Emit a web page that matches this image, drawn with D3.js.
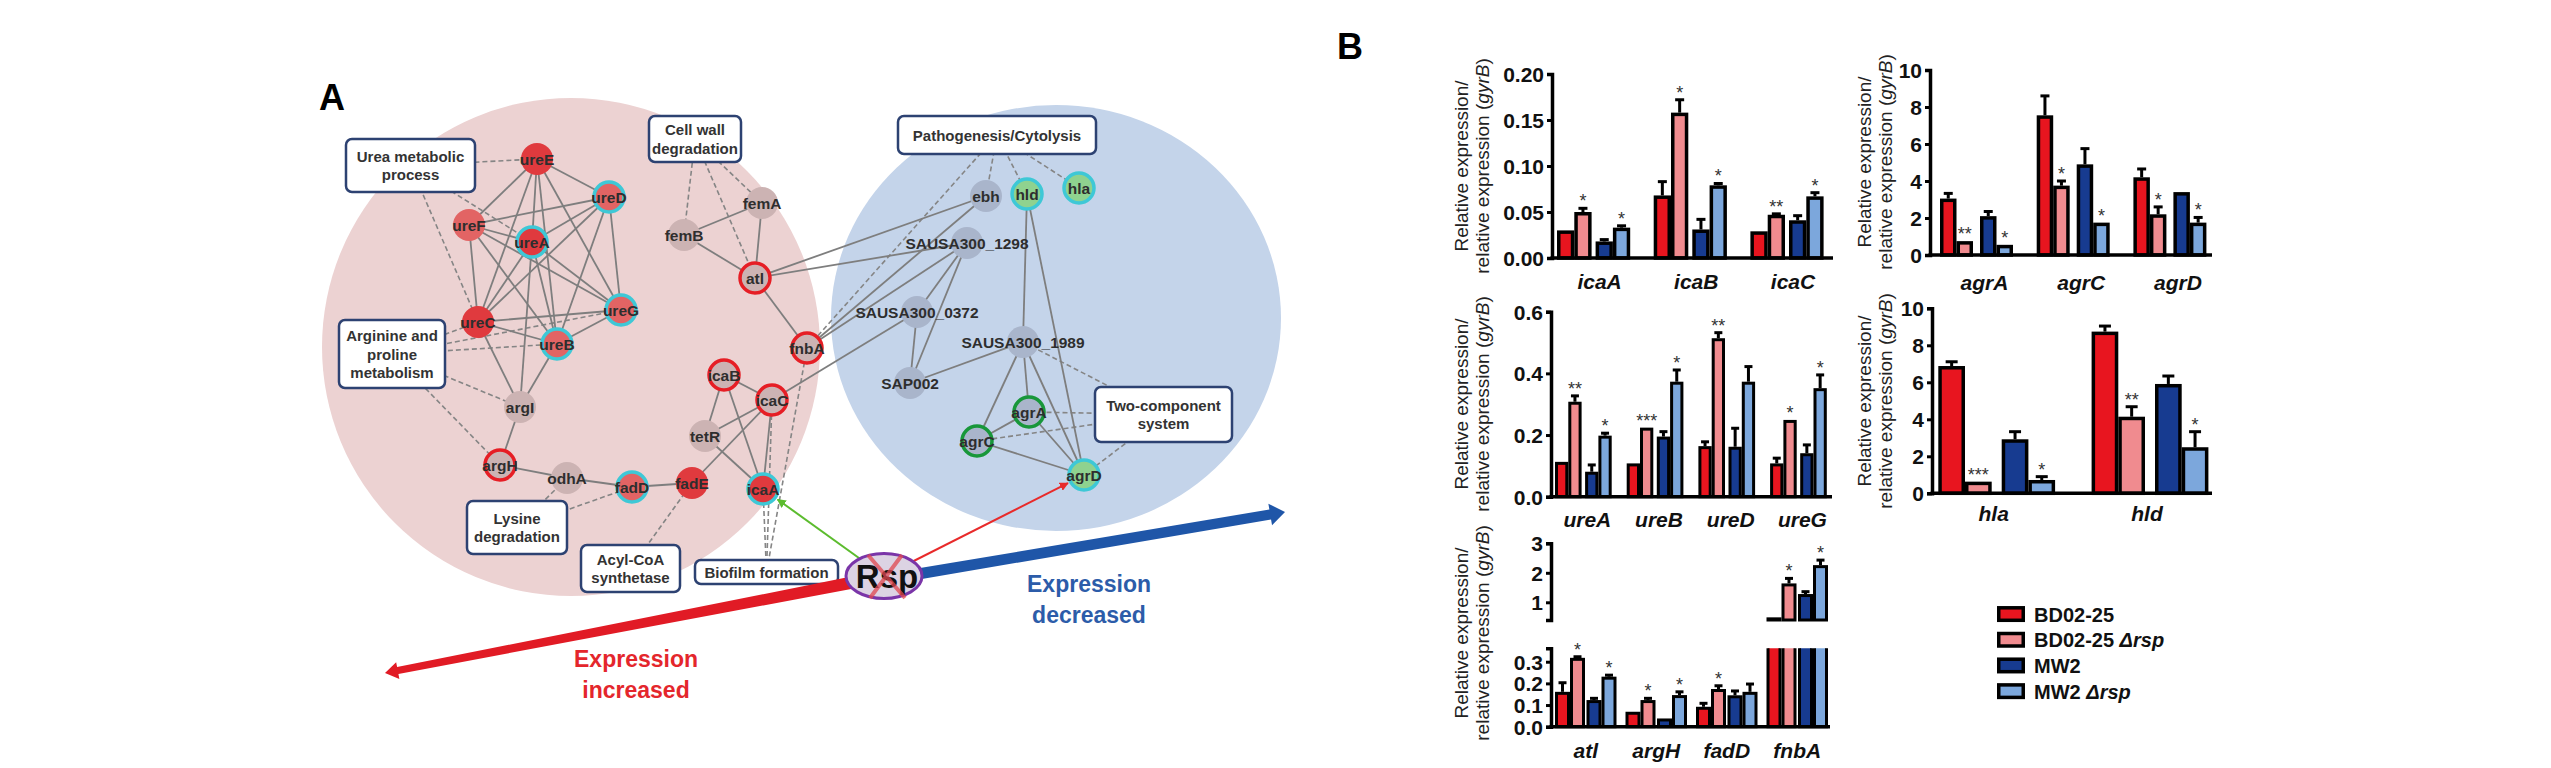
<!DOCTYPE html>
<html>
<head>
<meta charset="utf-8">
<script src="https://cdn.jsdelivr.net/npm/d3@7"></script>
<style>
  body { margin: 0; background: #fff; }
  svg { display: block; }
  text { font-family: "Liberation Sans", Arial, sans-serif; }
</style>
</head>
<body>
<svg width="2551" height="768"></svg>
<script>
// ---------------- data: panel B (qRT-PCR) ----------------
const seriesNames = ["BD02-25", "BD02-25 \u0394rsp", "MW2", "MW2 \u0394rsp"];

const icaGenes = ["icaA", "icaB", "icaC"];
const icaMean = [[0.030, 0.050, 0.018, 0.033], [0.068, 0.158, 0.031, 0.079], [0.029, 0.047, 0.041, 0.067]];
const icaErr  = [[0, 0.004, 0.002, 0.002], [0.015, 0.014, 0.011, 0.002], [0, 0.001, 0.005, 0.004]];
const icaSig  = [["", "*", "", "*"], ["", "*", "", "*"], ["", "**", "", "*"]];
const icaTicks = [0, 0.05, 0.10, 0.15, 0.20];

const agrGenes = ["agrA", "agrC", "agrD"];
const agrMean = [[3.05, 0.75, 2.1, 0.55], [7.55, 3.75, 4.9, 1.75], [4.2, 2.2, 3.4, 1.75]];
const agrErr  = [[0.28, 0, 0.25, 0], [1.05, 0.25, 0.85, 0], [0.45, 0.4, 0, 0.28]];
const agrSig  = [["", "**", "", "*"], ["", "*", "", "*"], ["", "*", "", "*"]];
const agrTicks = [0, 2, 4, 6, 8, 10];

const ureGenes = ["ureA", "ureB", "ureD", "ureG"];
const ureMean = [[0.113, 0.308, 0.081, 0.198], [0.108, 0.224, 0.195, 0.373], [0.164, 0.514, 0.162, 0.373], [0.108, 0.249, 0.141, 0.352]];
const ureErr  = [[0, 0.019, 0.022, 0.008], [0, 0, 0.016, 0.038], [0.014, 0.018, 0.06, 0.049], [0.017, 0, 0.027, 0.043]];
const ureSig  = [["", "**", "", "*"], ["", "***", "", "*"], ["", "**", "", ""], ["", "*", "", "*"]];
const ureTicks = [0, 0.2, 0.4, 0.6];

const toxGenes = ["hla", "hld"];
const toxMean = [[6.88, 0.63, 2.92, 0.72], [8.74, 4.14, 5.91, 2.49]];
const toxErr  = [[0.23, 0, 0.41, 0.18], [0.30, 0.54, 0.43, 0.84]];
const toxSig  = [["", "***", "", "*"], ["", "**", "", "*"]];
const toxTicks = [0, 2, 4, 6, 8, 10];

const adhGenes = ["atl", "argH", "fadD", "fnbA"];
const adhMean = [[0.161, 0.318, 0.123, 0.231], [0.069, 0.123, 0.038, 0.146], [0.092, 0.174, 0.145, 0.161], [0.49, 1.64, 1.28, 2.26]];
const adhErr  = [[0.042, 0.005, 0.008, 0.007], [0, 0.008, 0, 0.015], [0.016, 0.015, 0.02, 0.036], [0, 0.17, 0.08, 0.17]];
const adhSig  = [["", "*", "", "*"], ["", "*", "", "*"], ["", "*", "", ""], ["", "*", "", "*"]];
const adhTicksLow = [0, 0.1, 0.2, 0.3];
const adhTicksHigh = [1, 2, 3];

// ---------------- data: panel A (network) ----------------
const nodeIds = ["ureE", "ureD", "ureF", "ureA", "ureG", "ureC", "ureB", "argI", "argH", "odhA",
  "fadD", "fadE", "icaA", "tetR", "icaB", "icaC", "fnbA", "atl", "femA", "femB",
  "ebh", "hld", "hla", "SAUSA300_1298", "SAUSA300_0372", "SAUSA300_1989", "SAP002", "agrA", "agrC", "agrD"];
// layout coordinates of the network drawing
const nodeX = [237, 309, 169, 232, 321, 178, 257, 220, 200, 267,
  332, 392, 463, 405, 424, 472, 507, 455, 462, 384,
  686, 727, 779, 667, 617, 723, 610, 729, 677, 784];
const nodeY = [99, 137, 165, 182, 250, 262, 284, 347, 405, 418,
  427, 423, 429, 376, 315, 340, 288, 218, 143, 175,
  136, 134, 128, 183, 252, 282, 323, 352, 381, 415];
const nodeChange = ["up", "weak", "weak", "up", "weak", "up", "weak", "none", "none", "none",
  "weak", "up", "up", "none", "none", "none", "none", "none", "none", "none",
  "noneB", "down", "down", "noneB", "noneB", "noneB", "noneB", "noneB", "noneB", "down"];
const nodeRing = ["", "cyan", "", "cyan", "cyan", "", "cyan", "", "red", "",
  "cyan", "", "cyan", "", "red", "red", "red", "red", "", "",
  "", "cyan", "cyan", "", "", "", "", "green", "green", "cyan"];

const terms = [
  { id: "Urea", lines: ["Urea metabolic", "process"], x0: 46, y0: 79, x1: 175, y1: 132 },
  { id: "Cell", lines: ["Cell wall", "degradation"], x0: 349, y0: 56, x1: 441, y1: 102 },
  { id: "Arg", lines: ["Arginine and", "proline", "metabolism"], x0: 39, y0: 260, x1: 145, y1: 328 },
  { id: "Lys", lines: ["Lysine", "degradation"], x0: 167, y0: 441, x1: 267, y1: 494 },
  { id: "Acyl", lines: ["Acyl-CoA", "synthetase"], x0: 281, y0: 485, x1: 380, y1: 532 },
  { id: "Bio", lines: ["Biofilm formation"], x0: 395, y0: 500, x1: 538, y1: 524 },
  { id: "Path", lines: ["Pathogenesis/Cytolysis"], x0: 598, y0: 56, x1: 796, y1: 94 },
  { id: "Two", lines: ["Two-component", "system"], x0: 795, y0: 327, x1: 932, y1: 382 }
];

const solidEdges = [
  ["ureE", "ureD"], ["ureE", "ureF"], ["ureE", "ureA"], ["ureE", "ureC"], ["ureE", "ureB"], ["ureE", "ureG"],
  ["ureD", "ureF"], ["ureD", "ureA"], ["ureD", "ureC"], ["ureD", "ureG"], ["ureD", "ureB"],
  ["ureF", "ureA"], ["ureF", "ureC"], ["ureF", "ureG"], ["ureF", "ureB"],
  ["ureA", "ureC"], ["ureA", "ureG"], ["ureA", "ureB"], ["ureA", "argI"],
  ["ureC", "ureG"], ["ureC", "ureB"], ["ureC", "argI"], ["ureG", "ureB"], ["ureB", "argI"],
  ["argI", "argH"], ["argH", "odhA"], ["odhA", "fadD"], ["fadD", "fadE"], ["fadE", "icaC"],
  ["tetR", "icaB"], ["tetR", "icaC"], ["tetR", "icaA"], ["icaB", "icaC"], ["icaB", "icaA"], ["icaC", "icaA"],
  ["femB", "femA"], ["femB", "atl"], ["femA", "atl"], ["atl", "fnbA"],
  ["atl", "ebh"], ["atl", "SAUSA300_1298"], ["fnbA", "ebh"], ["fnbA", "SAUSA300_1298"], ["icaC", "SAUSA300_0372"],
  ["SAUSA300_1298", "SAUSA300_0372"], ["SAUSA300_1298", "SAP002"], ["SAUSA300_0372", "SAP002"],
  ["SAP002", "SAUSA300_1989"], ["hld", "SAUSA300_1989"], ["hld", "agrD"],
  ["SAUSA300_1989", "agrA"], ["SAUSA300_1989", "agrC"], ["SAUSA300_1989", "agrD"],
  ["agrA", "agrC"], ["agrA", "agrD"], ["agrC", "agrD"]
];
const termEdges = [
  ["Urea", "ureE"], ["Urea", "ureA"], ["Urea", "ureC"],
  ["Arg", "ureC"], ["Arg", "ureB"], ["Arg", "ureG"], ["Arg", "argI"], ["Arg", "argH"],
  ["Lys", "odhA"], ["Lys", "fadD"], ["Acyl", "fadE"],
  ["Cell", "femB"], ["Cell", "femA"], ["Cell", "atl"],
  ["Bio", "icaA"], ["Bio", "icaC"], ["Bio", "fnbA"],
  ["Path", "ebh"], ["Path", "hld"], ["Path", "hla"], ["Path", "fnbA"],
  ["Two", "agrA"], ["Two", "agrC"], ["Two", "agrD"], ["Two", "SAUSA300_1989"]
];
const rspTargets = ["icaA", "agrD"];
const rspEffect = ["up", "down"];

// ---------------- drawing ----------------
const svg = d3.select("svg");
const barColor = d3.scaleOrdinal().domain([0, 1, 2, 3]).range(["#e8151f", "#f08b8f", "#173b90", "#7ca7dc"]);

function drawChart(c) {
  const g = svg.append("g");
  const W = 4 * c.barW + c.pairGap;
  const pin = 1 - W / c.step;
  const x = d3.scaleBand().domain(c.genes)
    .range([c.gx, c.gx + c.step * (c.genes.length - pin)])
    .paddingInner(pin).paddingOuter(0);
  const offs = i => i * c.barW + (i >= 2 ? c.pairGap : 0);
  const sw = c.sw;
  const rows = [];
  c.genes.forEach((gene, gi) => c.mean[gi].forEach((v, si) =>
    rows.push({ gene, si, v, e: c.err[gi][si], s: c.sig[gi][si] })));

  c.segments.forEach((seg, k) => {
    const y = d3.scaleLinear().domain(seg.domain).range(seg.range);
    const base = seg.domain[0];
    const id = "clip-" + c.name + k;
    const clipTop = seg.open ? seg.range[1] : seg.range[1] - 80;
    g.append("clipPath").attr("id", id).append("rect")
      .attr("x", c.ax).attr("width", c.right - c.ax)
      .attr("y", clipTop).attr("height", seg.range[0] + sw - clipTop);
    const inSeg = rows.filter(d => d.v > base);
    g.append("g").attr("clip-path", `url(#${id})`)
      .selectAll("rect").data(inSeg).join("rect")
      .attr("x", d => x(d.gene) + offs(d.si) + sw / 2)
      .attr("width", c.barW - sw)
      .attr("y", d => y(d.v) + sw / 2)
      .attr("height", d => Math.max(0.5, y(base) - y(d.v) - sw / 2))
      .attr("fill", d => barColor(d.si))
      .attr("stroke", "#000").attr("stroke-width", sw);

    const shown = inSeg.filter(d => d.v <= seg.domain[1]);
    const cx = d => x(d.gene) + offs(d.si) + c.barW / 2;
    const eb = g.append("g").attr("stroke", "#000").attr("stroke-width", 3);
    eb.selectAll("line.v").data(shown.filter(d => d.e > 0)).join("line")
      .attr("x1", cx).attr("x2", cx)
      .attr("y1", d => y(d.v)).attr("y2", d => y(d.v + d.e));
    eb.selectAll("line.h").data(shown.filter(d => d.e > 0)).join("line")
      .attr("x1", d => cx(d) - c.capW / 2).attr("x2", d => cx(d) + c.capW / 2)
      .attr("y1", d => y(d.v + d.e)).attr("y2", d => y(d.v + d.e));
    g.selectAll(null).data(shown.filter(d => d.s)).join("text")
      .attr("x", cx).attr("y", d => y(d.v + d.e) - 1)
      .attr("text-anchor", "middle").attr("font-size", 18).attr("fill", "#333")
      .text(d => d.s);

    const axis = d3.axisLeft(y).tickValues(seg.ticks).tickFormat(d3.format(seg.fmt))
      .tickSize(5).tickSizeOuter(5).tickPadding(3);
    const ag = g.append("g").attr("transform", `translate(${c.ax},0)`).call(axis);
    ag.select(".domain").attr("stroke", "#000").attr("stroke-width", 3.5);
    ag.selectAll(".tick line").attr("stroke", "#000").attr("stroke-width", 3);
    ag.selectAll(".tick text").attr("font-family", "Liberation Sans, Arial, sans-serif")
      .attr("font-weight", "bold").attr("font-size", 21).attr("fill", "#111").attr("dy", "0.36em");
  });

  const y0 = c.segments[0].range[0];
  g.append("line").attr("x1", c.ax - 1.5).attr("x2", c.right).attr("y1", y0).attr("y2", y0)
    .attr("stroke", "#000").attr("stroke-width", 3.5);

  g.selectAll(null).data(c.genes).join("text")
    .attr("x", d => x(d) + W / 2 + c.labelDx).attr("y", c.labelY)
    .attr("text-anchor", "middle").attr("font-size", 21)
    .attr("font-weight", "bold").attr("font-style", "italic").attr("fill", "#111")
    .text(d => d);

  const l1 = g.append("text").attr("transform", `translate(${c.ylx[0]},${c.ylc}) rotate(-90)`)
    .attr("text-anchor", "middle").attr("font-size", 19).attr("fill", "#222")
    .text("Relative expression/");
  const l2 = g.append("text").attr("transform", `translate(${c.ylx[1]},${c.ylc}) rotate(-90)`)
    .attr("text-anchor", "middle").attr("font-size", 19).attr("fill", "#222");
  l2.append("tspan").text("relative expression (");
  l2.append("tspan").attr("font-style", "italic").text("gyrB");
  l2.append("tspan").text(")");
}

drawChart({ name: "ica", genes: icaGenes, mean: icaMean, err: icaErr, sig: icaSig,
  ax: 1552, right: 1833, gx: 1557, step: 96.7, barW: 17.3, pairGap: 4, sw: 3.5, capW: 9,
  segments: [{ domain: [0, 0.2], range: [258, 74], ticks: icaTicks, fmt: ".2f" }],
  labelY: 289, labelDx: 6, ylx: [1468, 1489], ylc: 166 });

drawChart({ name: "agr", genes: agrGenes, mean: agrMean, err: agrErr, sig: agrSig,
  ax: 1930, right: 2212, gx: 1940, step: 96.7, barW: 16.5, pairGap: 7, sw: 3.5, capW: 9,
  segments: [{ domain: [0, 10], range: [255, 70], ticks: agrTicks, fmt: "d" }],
  labelY: 290, labelDx: 8, ylx: [1871, 1892], ylc: 162 });

drawChart({ name: "ure", genes: ureGenes, mean: ureMean, err: ureErr, sig: ureSig,
  ax: 1551, right: 1832, gx: 1555, step: 71.7, barW: 13.3, pairGap: 3.5, sw: 3, capW: 8,
  segments: [{ domain: [0, 0.6], range: [496.7, 311.7], ticks: ureTicks, fmt: ".1f" }],
  labelY: 527, labelDx: 4, ylx: [1468, 1489], ylc: 404 });

drawChart({ name: "tox", genes: toxGenes, mean: toxMean, err: toxErr, sig: toxSig,
  ax: 1932, right: 2212, gx: 1938.3, step: 153.3, barW: 26.7, pairGap: 10, sw: 3.5, capW: 12,
  segments: [{ domain: [0, 10], range: [493.3, 308.3], ticks: toxTicks, fmt: "d" }],
  labelY: 521, labelDx: -3, ylx: [1871, 1892], ylc: 401 });

drawChart({ name: "adh", genes: adhGenes, mean: adhMean, err: adhErr, sig: adhSig,
  ax: 1551, right: 1830, gx: 1555, step: 70.5, barW: 15, pairGap: 1.5, sw: 3, capW: 8,
  segments: [
    { domain: [0, 0.362], range: [726.7, 648.3], ticks: adhTicksLow, fmt: ".1f", open: true },
    { domain: [0.4, 3], range: [620, 543.3], ticks: adhTicksHigh, fmt: "d" }
  ],
  labelY: 758, labelDx: 0, ylx: [1468, 1489], ylc: 633 });

// legend
const lg = svg.append("g").attr("transform", "translate(1997,614)");
const lrow = lg.selectAll("g").data(seriesNames).join("g")
  .attr("transform", (d, i) => `translate(0,${i * 25.7})`);
lrow.append("rect").attr("x", 1.75).attr("y", -6.2).attr("width", 24.5).attr("height", 12.5)
  .attr("fill", (d, i) => barColor(i)).attr("stroke", "#000").attr("stroke-width", 3.5);
const ltxt = lrow.append("text").attr("x", 37).attr("y", 7.5)
  .attr("font-size", 20).attr("font-weight", "bold").attr("fill", "#111");
ltxt.append("tspan").text(d => d.split(" ")[0]);
ltxt.append("tspan").attr("font-style", "italic").text(d => d.includes(" ") ? " " + d.split(" ")[1] : "");

svg.append("text").attr("x", 1337).attr("y", 59).attr("font-size", 36).attr("font-weight", "bold").text("B");

// ---------------- panel A ----------------
const xNet = d3.scaleLinear().domain([0, 1000]).range([300, 1300]);
const yNet = d3.scaleLinear().domain([0, 700]).range([60, 760]);
const gA = svg.append("g");

const changeFill = d3.scaleOrdinal().domain(["up", "weak", "none", "noneB", "down"])
  .range(["#e03a3e", "#e26464", "#ccb3b3", "#a9b5cb", "#8fd28f"]);
const ringColor = d3.scaleOrdinal().domain(["cyan", "red", "green"]).range(["#3ec8d6", "#e61e25", "#18973a"]);

gA.append("ellipse").attr("cx", xNet(271)).attr("cy", yNet(287)).attr("rx", 249).attr("ry", 249).attr("fill", "#ecd2d2");
gA.append("ellipse").attr("cx", xNet(756)).attr("cy", yNet(258)).attr("rx", 225).attr("ry", 213).attr("fill", "#c4d4ea");

const pos = new Map();
nodeIds.forEach((id, i) => pos.set(id, [nodeX[i], nodeY[i]]));
terms.forEach(t => pos.set(t.id, [(t.x0 + t.x1) / 2, (t.y0 + t.y1) / 2]));

gA.append("g").selectAll("line").data(termEdges).join("line")
  .attr("x1", d => xNet(pos.get(d[0])[0])).attr("y1", d => yNet(pos.get(d[0])[1]))
  .attr("x2", d => xNet(pos.get(d[1])[0])).attr("y2", d => yNet(pos.get(d[1])[1]))
  .attr("stroke", "#858585").attr("stroke-width", 1.6).attr("stroke-dasharray", "5,3");
gA.append("g").selectAll("line").data(solidEdges).join("line")
  .attr("x1", d => xNet(pos.get(d[0])[0])).attr("y1", d => yNet(pos.get(d[0])[1]))
  .attr("x2", d => xNet(pos.get(d[1])[0])).attr("y2", d => yNet(pos.get(d[1])[1]))
  .attr("stroke", "#7e7e7e").attr("stroke-width", 1.8);

// Rsp regulation lines
const rsp = [584, 516];
const regColor = d3.scaleOrdinal().domain(["up", "down"]).range(["#5cbc2e", "#e82a2a"]);
const defs = svg.append("defs");
["up", "down"].forEach(k => defs.append("marker").attr("id", "arr-" + k)
  .attr("viewBox", "0 0 10 10").attr("refX", 9).attr("refY", 5)
  .attr("markerWidth", 9).attr("markerHeight", 9).attr("markerUnits", "userSpaceOnUse")
  .attr("orient", "auto").append("path").attr("d", "M0,0L10,5L0,10z").attr("fill", regColor(k)));
gA.append("g").selectAll("line").data(rspTargets).join("line")
  .each(function (t, i) {
    const [tx, ty] = pos.get(t);
    const dx = tx - rsp[0], dy = ty - rsp[1], L = Math.hypot(dx, dy);
    d3.select(this)
      .attr("x1", xNet(rsp[0])).attr("y1", yNet(rsp[1]))
      .attr("x2", xNet(tx - dx / L * 18)).attr("y2", yNet(ty - dy / L * 18))
      .attr("stroke", regColor(rspEffect[i])).attr("stroke-width", 2)
      .attr("marker-end", `url(#arr-${rspEffect[i]})`);
  });

// term boxes
const tg = gA.append("g").selectAll("g").data(terms).join("g");
tg.append("rect")
  .attr("x", d => xNet(d.x0)).attr("y", d => yNet(d.y0))
  .attr("width", d => d.x1 - d.x0).attr("height", d => d.y1 - d.y0)
  .attr("rx", 6).attr("fill", "#fff").attr("stroke", "#2d4272").attr("stroke-width", 2.5);
tg.each(function (d) {
  const n = d.lines.length, cy = (d.y0 + d.y1) / 2;
  d3.select(this).selectAll("text").data(d.lines).join("text")
    .attr("x", xNet((d.x0 + d.x1) / 2))
    .attr("y", (l, j) => yNet(cy + (j - (n - 1) / 2) * 18.5) + 5.5)
    .attr("text-anchor", "middle").attr("font-size", 15).attr("font-weight", "bold").attr("fill", "#333")
    .text(l => l);
});

// nodes
const ng = gA.append("g").selectAll("g").data(nodeIds).join("g")
  .attr("transform", (d, i) => `translate(${xNet(nodeX[i])},${yNet(nodeY[i])})`);
ng.append("circle")
  .attr("r", (d, i) => nodeRing[i] ? 15 : 16)
  .attr("fill", (d, i) => changeFill(nodeChange[i]))
  .attr("stroke", (d, i) => nodeRing[i] ? ringColor(nodeRing[i]) : "none")
  .attr("stroke-width", 3.5);
ng.append("text").attr("text-anchor", "middle").attr("y", 5.5)
  .attr("font-size", 15.5).attr("font-weight", "bold").attr("fill", "#2e2e2e")
  .text(d => d);

// big direction arrows
function taper(p0, p1, w0, w1, hw, hl) {
  const dx = p1[0] - p0[0], dy = p1[1] - p0[1], L = Math.hypot(dx, dy);
  const ux = dx / L, uy = dy / L, nx = -uy, ny = ux;
  const b = [p1[0] - ux * hl, p1[1] - uy * hl];
  const pts = [
    [p0[0] + nx * w0 / 2, p0[1] + ny * w0 / 2], [b[0] + nx * w1 / 2, b[1] + ny * w1 / 2],
    [b[0] + nx * hw / 2, b[1] + ny * hw / 2], p1,
    [b[0] - nx * hw / 2, b[1] - ny * hw / 2], [b[0] - nx * w1 / 2, b[1] - ny * w1 / 2],
    [p0[0] - nx * w0 / 2, p0[1] - ny * w0 / 2]
  ];
  return d3.line().x(p => xNet(p[0])).y(p => yNet(p[1]))(pts) + "Z";
}
gA.append("path").attr("d", taper([550, 523], [85, 613], 12, 7, 17, 13)).attr("fill", "#e11b25");
gA.append("path").attr("d", taper([618, 514], [985, 452], 11, 10, 22, 15)).attr("fill", "#1f56a8");

// Rsp
gA.append("ellipse").attr("cx", xNet(rsp[0])).attr("cy", yNet(rsp[1])).attr("rx", 38).attr("ry", 22.5)
  .attr("fill", "#dcd3e3").attr("stroke", "#7a35a8").attr("stroke-width", 3);
gA.append("text").attr("x", xNet(rsp[0]) + 3).attr("y", yNet(rsp[1]) + 12)
  .attr("text-anchor", "middle").attr("font-size", 33).attr("font-weight", "bold").attr("fill", "#111").text("Rsp");
gA.append("path")
  .attr("d", `M${xNet(568)},${yNet(495)}L${xNet(605)},${yNet(538)}M${xNet(602)},${yNet(495)}L${xNet(570)},${yNet(538)}`)
  .attr("stroke", "#e0474f").attr("stroke-opacity", 0.75).attr("stroke-width", 4);

const exprFont = "Lato, 'Open Sans', sans-serif";
gA.append("text").attr("x", xNet(336)).attr("y", yNet(607)).attr("text-anchor", "middle")
  .attr("font-family", exprFont).attr("font-weight", "bold").attr("font-size", 23).attr("fill", "#e4262c")
  .selectAll("tspan").data(["Expression", "increased"]).join("tspan")
  .attr("x", xNet(336)).attr("dy", (d, i) => i ? 31 : 0).text(d => d);
gA.append("text").attr("x", xNet(789)).attr("y", yNet(532)).attr("text-anchor", "middle")
  .attr("font-family", exprFont).attr("font-weight", "bold").attr("font-size", 23).attr("fill", "#2c5ca9")
  .selectAll("tspan").data(["Expression", "decreased"]).join("tspan")
  .attr("x", xNet(789)).attr("dy", (d, i) => i ? 31 : 0).text(d => d);

gA.append("text").attr("x", xNet(19)).attr("y", yNet(50)).attr("font-size", 36).attr("font-weight", "bold").text("A");
</script>
</body>
</html>
